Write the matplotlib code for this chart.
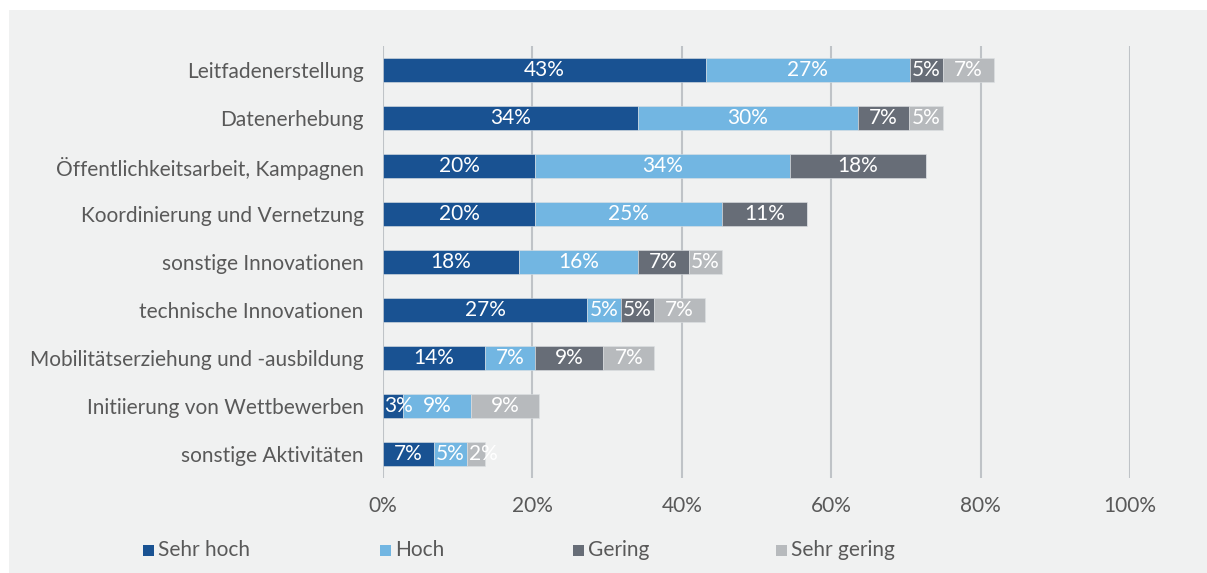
import matplotlib
matplotlib.use("Agg")
import matplotlib.pyplot as plt
from matplotlib.patches import Rectangle

plt.rcParams['font.family'] = ['Lato', 'DejaVu Sans']

kategorien = ['Leitfadenerstellung', 'Datenerhebung', 'Öffentlichkeitsarbeit, Kampagnen',
              'Koordinierung und Vernetzung', 'sonstige Innovationen', 'technische Innovationen',
              'Mobilitätserziehung und -ausbildung', 'Initiierung von Wettbewerben',
              'sonstige Aktivitäten']

sehr_hoch   = [43.2, 34.1, 20.4, 20.4, 18.2, 27.3, 13.6, 2.7, 6.8]
hoch        = [27.3, 29.5, 34.1, 25.0, 15.9, 4.5, 6.8, 9.1, 4.5]
gering      = [4.5, 6.8, 18.2, 11.4, 6.8, 4.5, 9.1, 0, 0]
sehr_gering = [6.8, 4.5, 0, 0, 4.5, 6.8, 6.8, 9.1, 2.3]

serien = ['Sehr hoch', 'Hoch', 'Gering', 'Sehr gering']
farben = ['#195292', '#72b6e2', '#676d77', '#b7babd']
ticks = [0, 20, 40, 60, 80, 100]

bg = '#f0f1f1'
textfarbe = '#595959'

fig = plt.figure(figsize=(12.07, 5.73), dpi=100, facecolor='white')
fig.patches.append(Rectangle((9 / 1207, 0), 1, (573 - 10) / 573, transform=fig.transFigure,
                             facecolor=bg, edgecolor='none', zorder=-10))
ax = fig.add_axes([383 / 1207, 1 - 478 / 573, (1130 - 383) / 1207, (478 - 46) / 573])
ax.set_facecolor(bg)

y = list(range(len(kategorien)))
links = [0] * len(kategorien)
for werte, name, farbe in zip([sehr_hoch, hoch, gering, sehr_gering], serien, farben):
    ax.barh(y, werte, left=links, height=0.48, color=farbe, edgecolor='#dde0e3',
            linewidth=0.4, zorder=3, label=name)
    for i, w in enumerate(werte):
        if w <= 0:
            continue
        txt = '%d%%' % int(w + 0.5)
        if w < 3.5:
            # schmale Segmente: Beschriftung linksbündig wie im Original
            ax.text(links[i] + 0.2, i, txt, ha='left', va='center',
                    color='white', fontsize=15, zorder=4)
        else:
            ax.text(links[i] + w / 2, i, txt, ha='center', va='center',
                    color='white', fontsize=15, zorder=4)
    links = [l + w for l, w in zip(links, werte)]

ax.set_xlim(0, 100)
ax.set_ylim(8.5, -0.5)
ax.set_xticks(ticks)
ax.set_xticklabels(['%d%%' % t for t in ticks])
ax.set_yticks(y)
ax.set_yticklabels(kategorien)
ax.tick_params(axis='both', length=0, labelsize=15, labelcolor=textfarbe)
ax.tick_params(axis='x', pad=13)
ax.tick_params(axis='y', pad=14)
ax.grid(axis='x', color='#bfc3c7', linewidth=1.5, zorder=0)
for s in ax.spines.values():
    s.set_visible(False)

# Legende von Hand
leg_x = [143, 380, 573, 776]
for lx, name, farbe in zip(leg_x, serien, farben):
    fig.patches.append(Rectangle((lx / 1207, 1 - 556 / 573), 11 / 1207, 11 / 573,
                                 transform=fig.transFigure, facecolor=farbe, edgecolor='none'))
    fig.text((lx + 15) / 1207, 1 - 550.5 / 573, name, ha='left', va='center',
             fontsize=15, color=textfarbe)

fig.savefig('out.png', dpi=100, facecolor='white')
